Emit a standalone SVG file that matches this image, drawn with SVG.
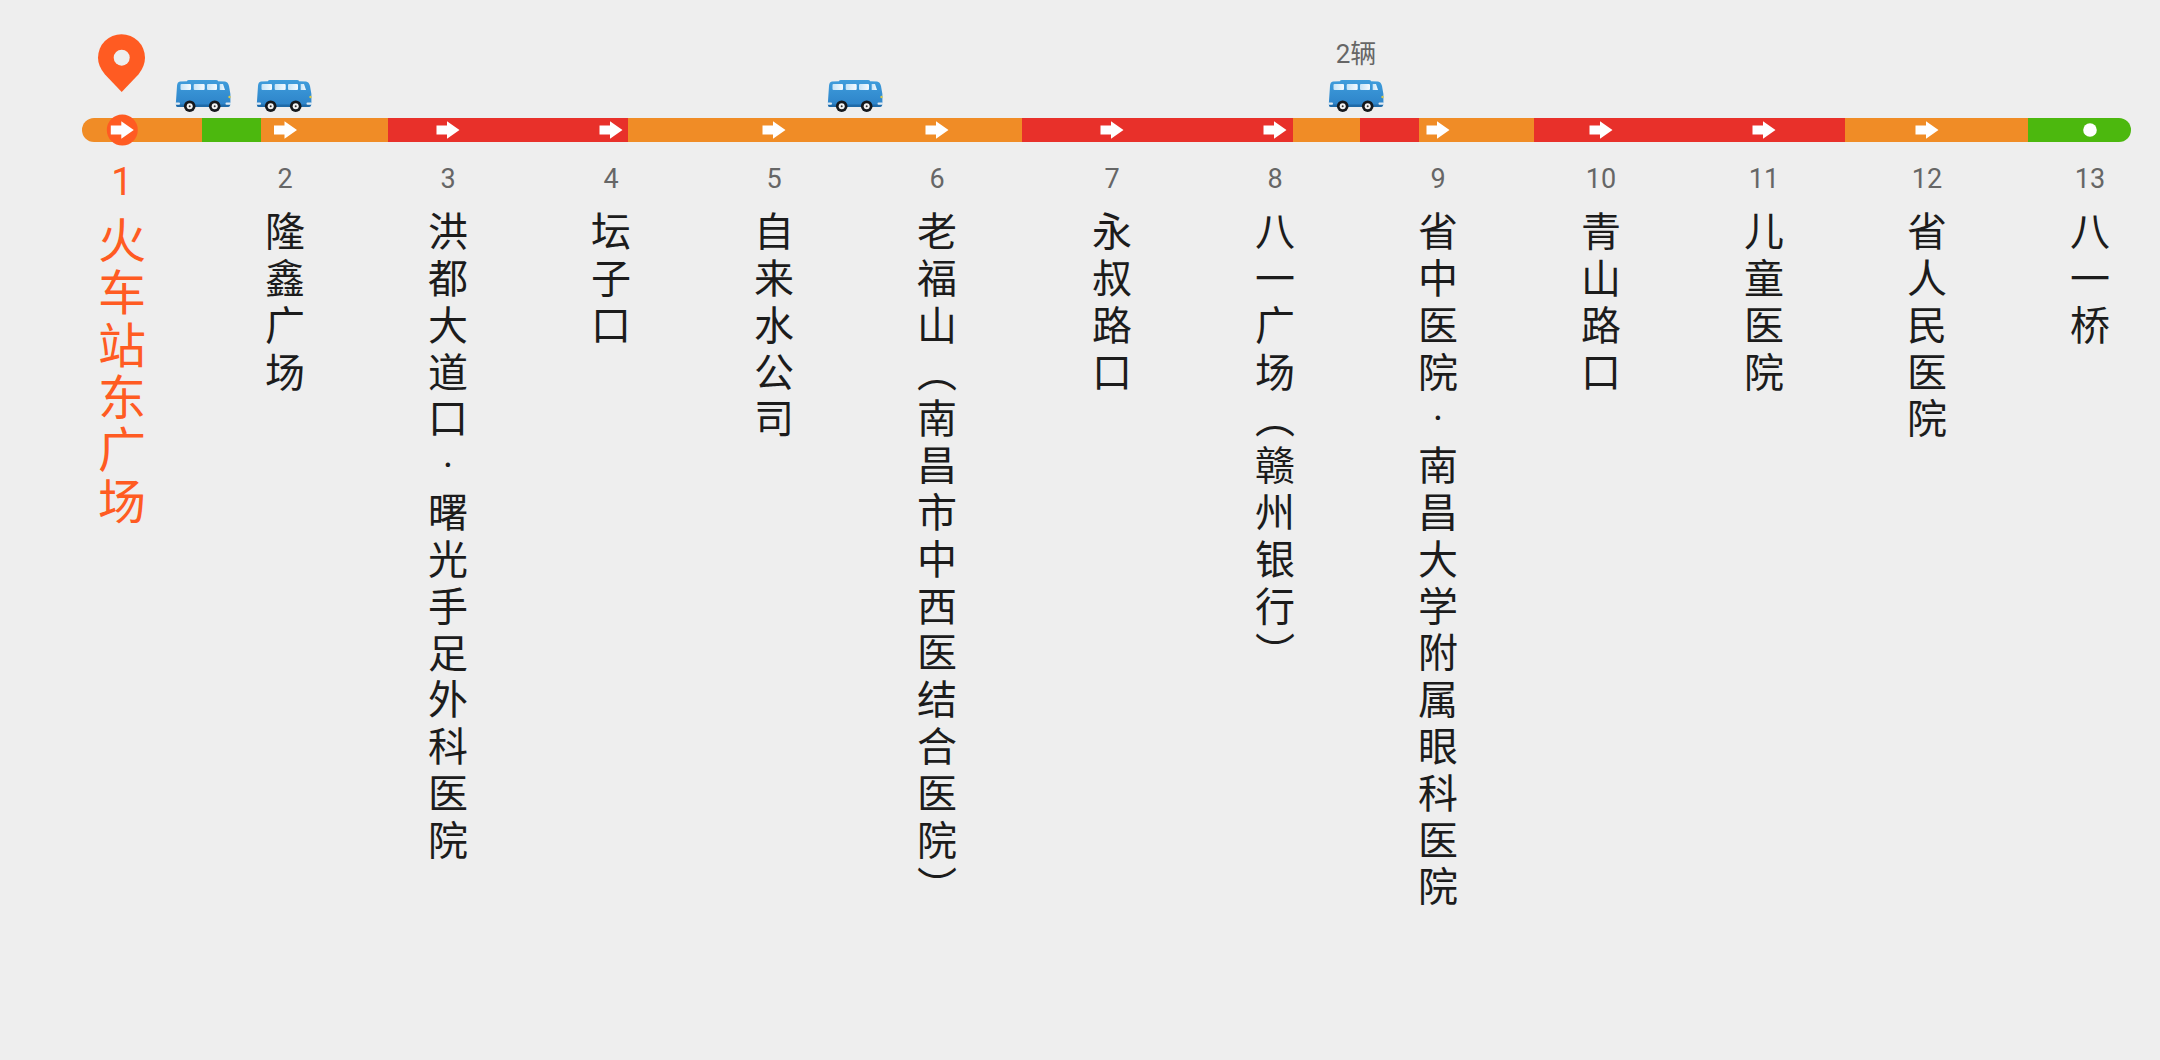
<svg xmlns="http://www.w3.org/2000/svg" width="2160" height="1060" viewBox="0 0 2160 1060">
<style>
.num{font-family:Roboto,"Noto Sans CJK SC",sans-serif;font-size:27px;fill:#666;text-anchor:middle}
.name{font-family:"Noto Sans CJK SC",sans-serif;font-size:40px;fill:#1c1c1c;writing-mode:vertical-rl;text-orientation:upright;letter-spacing:6.8px}
.dot{font-family:Roboto,sans-serif}
.cur{fill:#ff5b22}
.o{fill:#f08c26}.g{fill:#4cb80e}.r{fill:#e8302a}
</style>
<defs>
<linearGradient id="bd" x1="0" y1="0" x2="0" y2="1"><stop offset="0" stop-color="#3f9ddc"/><stop offset="1" stop-color="#2c82c8"/></linearGradient>
<linearGradient id="win" x1="0" y1="0" x2="1" y2="0"><stop offset="0" stop-color="#c6e4f7"/><stop offset="1" stop-color="#f4fafe"/></linearGradient>
<symbol id="bus" width="56" height="32" viewBox="0 0 56 32" overflow="visible">
<path d="M12 1.2Q12 0 14 0H41Q43 0 43 1.2L50 1.6Q53 2 54 6L55.4 14V24Q55.4 27 52 27H3Q0.8 27 0.8 24L2 6Q2.2 2 5 1.6Z" fill="url(#bd)"/>
<path d="M1 24.5H55Q55 27 52 27H3Q1 27 1 24.5Z" fill="#1f6aa8"/>
<rect x="5.5" y="4" width="10.5" height="6" rx="1" fill="url(#win)"/>
<rect x="18.7" y="4" width="11" height="6" rx="1" fill="url(#win)"/>
<rect x="32" y="4" width="10" height="6" rx="1" fill="url(#win)"/>
<path d="M44.7 4H48L50 10H44.7Z" fill="url(#win)"/>
<rect x="0" y="22.5" width="5" height="2.2" rx="1" fill="#dfeaf2"/>
<rect x="50.5" y="22.5" width="5.5" height="2.2" rx="1" fill="#dfeaf2"/>
<circle cx="54.5" cy="17" r="1.2" fill="#d8c84a"/>
<circle cx="14.7" cy="26.2" r="5.8" fill="#15181c"/><circle cx="14.7" cy="26.2" r="3" fill="#f2f2f2"/><circle cx="14.7" cy="26.2" r="1" fill="#333"/>
<circle cx="39.7" cy="26.2" r="5.8" fill="#15181c"/><circle cx="39.7" cy="26.2" r="3" fill="#f2f2f2"/><circle cx="39.7" cy="26.2" r="1" fill="#333"/>
</symbol>
<path id="ar" d="M-11.5 -4.5H-1V-8.8L11.5 0L-1 8.8V4.5H-11.5Z" fill="#fff"/>
</defs>
<rect width="2160" height="1060" fill="#eeeeee"/>
<g id="connectors">
<path class="o" d="M202 118H94A12 12 0 0 0 94 142H202Z"/>
<rect class="g" x="202" y="118" width="59" height="24"/>
<rect class="o" x="261" y="118" width="127" height="24"/>
<rect class="r" x="388" y="118" width="240" height="24"/>
<rect class="o" x="628" y="118" width="394" height="24"/>
<rect class="r" x="1022" y="118" width="271" height="24"/>
<rect class="o" x="1293" y="118" width="67" height="24"/>
<rect class="r" x="1360" y="118" width="59" height="24"/>
<rect class="o" x="1419" y="118" width="115" height="24"/>
<rect class="r" x="1534" y="118" width="311" height="24"/>
<rect class="o" x="1845" y="118" width="183" height="24"/>
<path class="g" d="M2028 118H2119A12 12 0 0 1 2119 142H2028Z"/>
</g>
<g id="pin"><path class="cur" d="M121.7 92L105 74.5Q98 66 98 57.7A23.5 23.5 0 0 1 145 57.7Q145 66 138.4 74.5Z"/><circle cx="121.7" cy="57.7" r="8" fill="#eee"/></g>
<g id="buses">
<use href="#bus" x="175" y="80"/><use href="#bus" x="256" y="80"/><use href="#bus" x="827" y="80"/><use href="#bus" x="1328" y="80"/>
<text x="1356" y="63" font-family="Roboto,'Noto Sans CJK SC',sans-serif" font-size="26" fill="#666" text-anchor="middle">2辆</text>
</g>
<g id="s1"><circle class="cur" cx="122.3" cy="130" r="15.5"/><use href="#ar" x="122.3" y="130"/><text class="num cur" x="122" y="195" style="font-size:38px">1</text><text class="name cur" x="122" y="216" style="font-size:48px;letter-spacing:4.2px">火车站东广场</text></g>
<g id="s2"><use href="#ar" x="285.5" y="130"/><text class="num" x="285" y="188">2</text><text class="name" x="285" y="211">隆鑫广场</text></g>
<g id="s3"><use href="#ar" x="448" y="130"/><text class="num" x="448" y="188">3</text><text class="name" x="448" y="211">洪都大道口<tspan class="dot" dy="-3">·</tspan><tspan dy="-4">曙光手足外科医院</tspan></text></g>
<g id="s4"><use href="#ar" x="611" y="130"/><text class="num" x="611" y="188">4</text><text class="name" x="611" y="211">坛子口</text></g>
<g id="s5"><use href="#ar" x="774" y="130"/><text class="num" x="774" y="188">5</text><text class="name" x="774" y="211">自来水公司</text></g>
<g id="s6"><use href="#ar" x="937" y="130"/><text class="num" x="937" y="188">6</text><text class="name" x="937" y="211">老福山（南昌市中西医结合医院）</text></g>
<g id="s7"><use href="#ar" x="1112" y="130"/><text class="num" x="1112" y="188">7</text><text class="name" x="1112" y="211">永叔路口</text></g>
<g id="s8"><use href="#ar" x="1275" y="130"/><text class="num" x="1275" y="188">8</text><text class="name" x="1275" y="211">八一广场（赣州银行）</text></g>
<g id="s9"><use href="#ar" x="1438" y="130"/><text class="num" x="1438" y="188">9</text><text class="name" x="1438" y="211">省中医院<tspan class="dot" dy="-3">·</tspan><tspan dy="-4">南昌大学附属眼科医院</tspan></text></g>
<g id="s10"><use href="#ar" x="1601" y="130"/><text class="num" x="1601" y="188">10</text><text class="name" x="1601" y="211">青山路口</text></g>
<g id="s11"><use href="#ar" x="1764" y="130"/><text class="num" x="1764" y="188">11</text><text class="name" x="1764" y="211">儿童医院</text></g>
<g id="s12"><use href="#ar" x="1927" y="130"/><text class="num" x="1927" y="188">12</text><text class="name" x="1927" y="211">省人民医院</text></g>
<g id="s13"><circle cx="2090" cy="130" r="6.8" fill="#fff"/><text class="num" x="2090" y="188">13</text><text class="name" x="2090" y="211">八一桥</text></g>
</svg>
